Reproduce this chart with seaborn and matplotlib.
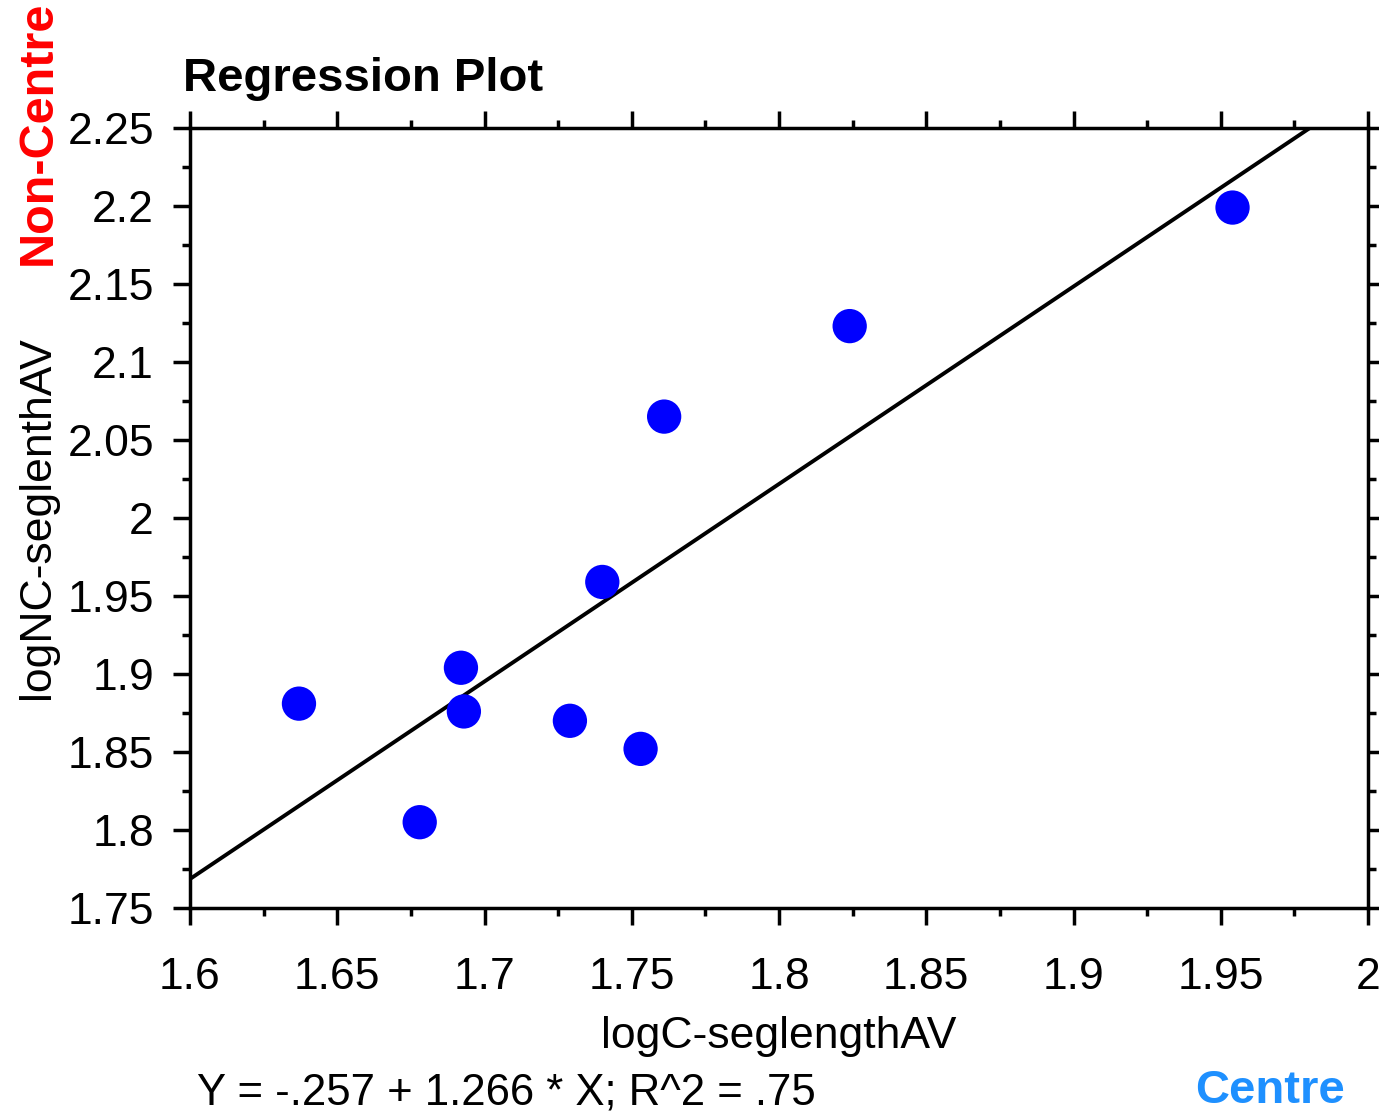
import matplotlib
matplotlib.use("Agg")
import matplotlib.pyplot as plt
import seaborn as sns
import pandas as pd
import numpy as np
from matplotlib.ticker import MultipleLocator, FuncFormatter

# Data
log_c = [1.637, 1.678, 1.692, 1.693, 1.729, 1.740, 1.753, 1.761, 1.824, 1.954]
log_nc = [1.881, 1.805, 1.904, 1.876, 1.870, 1.959, 1.852, 2.065, 2.123, 2.199]
intercept = -0.257
slope = 1.266
x_ticks = [1.6, 1.65, 1.7, 1.75, 1.8, 1.85, 1.9, 1.95, 2.0]
y_ticks = [1.75, 1.8, 1.85, 1.9, 1.95, 2.0, 2.05, 2.1, 2.15, 2.2, 2.25]

df = pd.DataFrame({"logC-seglengthAV": log_c, "logNC-seglenthAV": log_nc})

sns.set_theme(style="white")
plt.rcParams['font.family'] = ['Liberation Sans', 'DejaVu Sans']

fig = plt.figure(figsize=(13.79, 11.14), dpi=100)
ax = fig.add_axes([190/1379, 1 - 908/1114, (1368-190)/1379, (908-128)/1114])

sns.scatterplot(data=df, x="logC-seglengthAV", y="logNC-seglenthAV", ax=ax,
                color="#0000FF", s=610, edgecolor="none", zorder=3)
ax.axline((0, intercept), slope=slope, color="black", lw=2.8, zorder=2)

ax.set_xlim(1.6, 2.0)
ax.set_ylim(1.75, 2.25)
ax.set_xticks(x_ticks)
ax.set_yticks(y_ticks)
ax.xaxis.set_minor_locator(MultipleLocator(0.025))
ax.yaxis.set_minor_locator(MultipleLocator(0.025))

def fmt(v, pos):
    s = f"{v:.2f}".rstrip("0").rstrip(".")
    return s
ax.xaxis.set_major_formatter(FuncFormatter(fmt))
ax.yaxis.set_major_formatter(FuncFormatter(fmt))

for sp in ax.spines.values():
    sp.set_visible(True)
    sp.set_linewidth(2.5)
    sp.set_color("black")

ax.tick_params(axis="both", which="major", direction="out", length=12, width=2.5,
               color="black", labelsize=32, labelcolor="black",
               top=True, right=True, bottom=True, left=True)
ax.tick_params(axis="both", which="minor", direction="out", length=6, width=2.5,
               color="black", top=True, right=True, bottom=True, left=True)
ax.tick_params(axis="x", which="major", pad=23)
ax.tick_params(axis="y", which="major", pad=14)

ax.set_xlabel("logC-seglengthAV", fontsize=32, color="black", labelpad=13)
ax.set_ylabel("logNC-seglenthAV", fontsize=32, color="black")
ax.yaxis.set_label_coords(-132/1178, 0.5)

fig.text(183/1379, 1 - 79/1114, "Regression Plot", fontsize=34, fontweight="bold",
         ha="left", va="center", color="black")
fig.text(38/1379, 1 - 133/1114, "Non-Centre", fontsize=35, fontweight="bold",
         rotation=90, ha="center", va="center", color="#FF0000")
fig.text(197/1379, 1 - 1093/1114, "Y = -.257 + 1.266 * X; R^2 = .75", fontsize=31.5,
         ha="left", va="center", color="black")
fig.text(1345/1379, 1 - 1091/1114, "Centre", fontsize=34, fontweight="bold",
         ha="right", va="center", color="#1E90FF")

fig.savefig("out.png", dpi=100, facecolor="white")
